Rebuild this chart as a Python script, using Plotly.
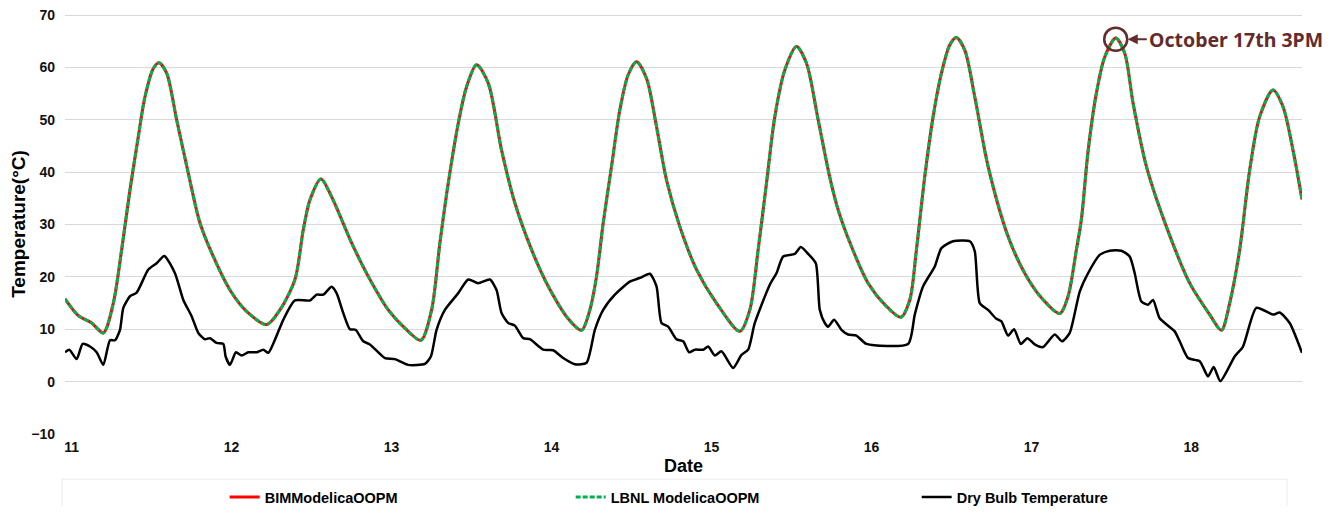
import plotly.graph_objects as go

# ---- data (hours since start of Oct 11) ----
sim_hours = [0, 2, 4, 5.75, 7.25, 8.5, 9.75, 11, 12, 13.25, 14.1, 15.25, 16.75, 18.5, 20.25, 22.25,
             24.75, 27.25, 30.25, 32.25, 34.5, 35.75, 36.75, 38.4, 40, 43, 45.5, 48.5, 51, 53.4,
             55, 56.25, 57.5, 59, 60.25, 61.75, 63.5, 65.5, 67.5, 70, 72.5, 75.5, 77.5,
             78.75, 79.75, 80.75, 82, 83.25, 84.5, 85.75, 87.25, 88.75, 90.25, 92.25, 94.75, 97.75, 101.25,
             102.75, 104, 105.25, 106.5, 108, 109.75, 111.25, 113, 114.75, 116, 118, 120.5, 123, 125.4,
             126.75, 127.75, 129, 130.25, 131.5, 132.75, 133.75, 135, 136.5, 138.5, 141.5, 144, 146.5, 149.25,
             150.5, 151.75, 152.5, 153.5, 154.75, 156, 157.65, 159, 160.25, 162.25, 165.25, 168.75, 171.75, 173.5,
             174.75, 176.25, 177.75, 179.25, 181.25, 182.75, 184.25, 185.6]
sim_temp = [15.8, 12.6, 11.2, 9.3, 15.0, 25.2, 36.6, 46.8, 54.4, 59.8, 60.9, 58.9, 50.0, 39.8, 30.3, 23.9,
            17.5, 13.4, 10.9, 13.7, 19.5, 29.0, 34.7, 38.7, 35.3, 26.5, 20.1, 13.7, 10.2, 7.9,
            13.7, 26.5, 37.9, 49.3, 56.3, 60.5, 57.0, 44.2, 34.1, 25.2, 18.2, 12.0, 9.8,
            13.7, 20.1, 30.3, 41.1, 51.9, 58.6, 61.1, 57.9, 48.7, 38.5, 29.6, 21.4, 15.0, 9.6,
            13.7, 25.2, 37.9, 50.6, 59.5, 64.0, 60.8, 50.0, 39.0, 32.8, 25.8, 18.8, 14.7, 12.3,
            15.6, 25.2, 39.2, 50.6, 58.9, 64.3, 65.7, 63.3, 54.4, 41.1, 27.7, 20.7, 16.0, 13.0,
            16.3, 25.2, 31.0, 44.0, 55.1, 62.0, 65.6, 62.7, 53.2, 41.1, 29.6, 18.8, 12.8, 9.8,
            15.0, 25.2, 40.4, 50.6, 55.7, 52.5, 44.2, 34.8]

dry_hours = [0, 0.65, 1.75, 2.65, 3.75, 4.75, 5.75, 6.75, 7.5, 8.25, 8.75, 9.75, 10.75, 12.5, 13.75, 14.9,
             16.5, 17.75, 19, 20, 21, 21.75, 22.75, 23.75, 24.1, 24.75, 25.65, 26.5, 27.5, 28.75, 29.75,
             30.5, 31.5, 32.75, 34.5, 36.75, 37.75, 38.75, 40, 40.75, 41.75, 42.75, 43.6, 44.75, 45.75,
             48, 49.5, 51.5, 54, 54.9, 55.75, 57, 59, 60.5, 62, 63.75, 64.75, 65.5, 66.5, 67.5, 68.75,
             69.75, 71.75, 73.25, 74.75, 76.5, 78.25, 79.5, 80.75, 82.5, 84.75, 86.25, 87.75, 88.75, 89.5,
             90.5, 91.75, 92.75, 93.65, 94.5, 95.75, 96.5, 97.5, 98.5, 100.25, 101.5, 102.5, 103.5, 105.75,
             106.75, 107.75, 109.5, 110.4, 111.5, 112.65, 113.25, 114, 114.5, 115.4, 116.5, 117.5, 118.75,
             120.25, 126.5, 127.5, 128.75, 130.5, 131.5, 133.25, 135.75, 136.5, 137.25, 138.5, 139.75,
             140.5, 141.5, 142.4, 143.4, 144.4, 145.5, 146.75, 148.5, 149.6, 150.75, 152.25, 153.5, 155.25,
             156.75, 158.5, 159.75, 160.5, 161.5, 162.5, 163.25, 164.25, 166.5, 167.25, 168.5, 170.25,
             171.5, 172.35, 173.35, 175.5, 176.75, 178.75, 181.25, 182.25, 183.75, 185.6]
dry_temp = [5.6, 6.1, 4.3, 7.2, 6.7, 5.6, 3.2, 7.9, 7.9, 9.9, 14.1, 16.3, 17.0, 21.4, 22.6, 24.0,
            20.7, 15.6, 12.5, 9.3, 8.1, 8.3, 7.4, 7.2, 4.8, 3.2, 5.6, 5.0, 5.6, 5.6, 6.1,
            5.5, 8.0, 11.8, 15.5, 15.5, 16.6, 16.6, 18.1, 16.9, 13.1, 10.0, 9.9, 7.7, 7.1,
            4.5, 4.3, 3.2, 3.4, 4.8, 9.9, 13.7, 16.9, 19.5, 18.8, 19.5, 17.5, 13.1, 11.2, 10.7, 8.3,
            8.1, 6.1, 6.0, 4.5, 3.3, 3.6, 9.9, 13.7, 16.6, 19.1, 19.8, 20.6, 18.2, 11.2,
            10.5, 8.1, 7.7, 5.6, 6.1, 6.1, 6.7, 5.0, 5.8, 2.6, 5.1, 6.1, 11.2, 18.5,
            20.7, 23.9, 24.4, 25.7, 24.4, 22.6, 13.7, 11.2, 10.5, 11.8, 9.9, 9.0, 8.8,
            7.2, 7.2, 12.8, 18.2, 22.0, 25.5, 26.8, 26.8, 24.9, 15.0, 13.7, 12.0,
            11.5, 8.8, 10.0, 7.2, 8.3, 7.1, 6.6, 9.0, 7.7, 9.3, 17.2, 20.7, 24.2,
            25.0, 25.0, 23.9, 20.7, 15.3, 14.7, 15.6, 12.1, 9.6, 7.7, 4.5, 3.9,
            1.0, 2.8, 0.1, 4.8, 6.7, 14.1, 12.8, 13.2, 11.2, 5.5]

day_labels = ["11", "12", "13", "14", "15", "16", "17", "18"]
y_ticks = [-10, 0, 10, 20, 30, 40, 50, 60, 70]
peak_hour = 157.65
peak_temp = 65.4
peak_text = "October 17th 3PM"

FONT = "Arial, Liberation Sans, sans-serif"
BROWN = "#632c2c"

fig = go.Figure()
fig.add_trace(go.Scatter(x=sim_hours, y=sim_temp, mode="lines", name="BIMModelicaOOPM",
                         line=dict(color="#ff0000", width=3, shape="spline", smoothing=0.8)))
fig.add_trace(go.Scatter(x=sim_hours, y=sim_temp, mode="lines", name="LBNL ModelicaOOPM",
                         line=dict(color="#00b050", width=3, dash="5px,2px", shape="spline", smoothing=0.8)))
fig.add_trace(go.Scatter(x=dry_hours, y=dry_temp, mode="lines", name="Dry Bulb Temperature",
                         line=dict(color="#000000", width=2.5, shape="spline", smoothing=0.6)))

tick_pos = [1 + 24 * i for i in range(len(day_labels))]

fig.update_layout(
    width=1322, height=498,
    margin=dict(l=57, r=28, t=6, b=72, autoexpand=False),
    paper_bgcolor="white", plot_bgcolor="white",
    font=dict(family=FONT, color="#000000"),
    showlegend=True,
    legend=dict(orientation="h", xref="container", yref="container",
                x=0.1639, xanchor="left", y=0.018, yanchor="middle",
                entrywidth=301, entrywidthmode="pixels", itemwidth=30,
                font=dict(family=FONT, size=14.5, weight="bold", color="#000000"),
                bgcolor="rgba(0,0,0,0)"),
    xaxis=dict(range=[0, 185.6], tickvals=tick_pos, ticktext=day_labels, automargin=False,
               showgrid=False, zeroline=False, showline=False,
               tickfont=dict(family=FONT, size=14, weight="bold", color="#111111"),
               ticklabelstandoff=3, ticklabeloverflow="allow",
               title=dict(text="Date", font=dict(family=FONT, size=18, weight="bold"), standoff=5)),
    yaxis=dict(range=[-10, 70.2], tickvals=y_ticks,
               showgrid=True, gridcolor="#d9d9d9", gridwidth=1,
               zeroline=False, showline=False, automargin=False,
               tickfont=dict(family=FONT, size=14, weight="bold", color="#111111"),
               ticklabelstandoff=9, ticklabeloverflow="allow",
               title=dict(text="Temperature(°C)", font=dict(family=FONT, size=19, weight="bold"), standoff=5)),
)

# legend frame
fig.add_shape(type="rect", xref="paper", yref="paper", x0=-0.0024, x1=0.9879, y0=-0.1074, y1=-0.25,
              line=dict(color="#ebebeb", width=1), fillcolor="rgba(0,0,0,0)", layer="below")

# peak marker circle and callout
fig.add_shape(type="circle", xref="x", yref="y", xsizemode="pixel", ysizemode="pixel",
              xanchor=peak_hour, yanchor=peak_temp, x0=-11.5, x1=11.5, y0=-11.5, y1=11.5,
              line=dict(color=BROWN, width=2.5))
fig.add_annotation(x=peak_hour, y=peak_temp, ax=31, ay=0, axref="pixel", ayref="pixel",
                   text=peak_text, xanchor="left", yanchor="middle", showarrow=True,
                   arrowhead=2, arrowsize=1, arrowwidth=2, arrowcolor=BROWN, standoff=12,
                   font=dict(family="Noto Sans, sans-serif", size=19.5, weight="bold", color=BROWN))

fig.write_html("out.html")
